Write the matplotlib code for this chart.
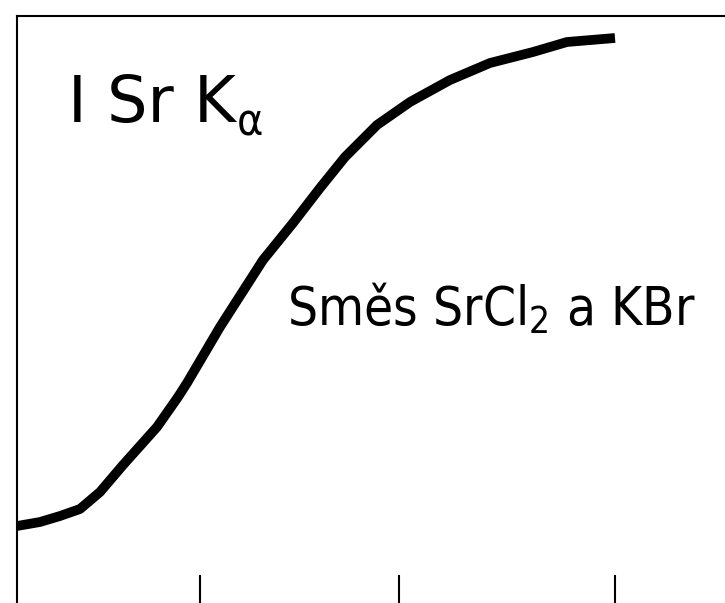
import matplotlib
matplotlib.use("Agg")
import matplotlib.pyplot as plt
from matplotlib import font_manager as fm

# ---- data (plot units) ----
x_vals = [0.00, 0.23, 0.43, 0.63, 0.83, 1.06, 1.40, 1.61, 1.70, 2.03, 2.46,
          2.76, 3.03, 3.28, 3.60, 3.93, 4.33, 4.73, 5.16, 5.50, 5.98]
y_vals = [0.89, 0.93, 0.99, 1.06, 1.23, 1.50, 1.88, 2.18, 2.32, 2.88, 3.55,
          3.92, 4.27, 4.58, 4.90, 5.13, 5.35, 5.52, 5.63, 5.73, 5.77]
x_ticks = [1.83, 3.82, 5.98]
label_y = "I Sr K"
label_y_sub = "α"
label_mix = "Směs SrCl$_{2}$ a KBr"

fp = fm.FontProperties(family="DejaVu Sans", stretch="condensed")
path = fm.findfont(fp)
cond = "Condensed" in path
stretch = 'condensed' if cond else 'normal'

plt.rcParams['mathtext.fontset'] = 'custom'
plt.rcParams['mathtext.rm'] = 'DejaVu Sans' + (':stretch=condensed' if cond else '')
plt.rcParams['mathtext.it'] = 'DejaVu Sans' + (':stretch=condensed' if cond else '')
plt.rcParams['mathtext.default'] = 'rm'

W, H = 725, 603
fig = plt.figure(figsize=(W / 100, H / 100), dpi=100)
left_px, right_px, top_px, bot_px = 17, 740, 16, 615
ax = fig.add_axes([left_px / W, (H - bot_px) / H,
                   (right_px - left_px) / W, (bot_px - top_px) / H])
ax.set_xlim(0, (right_px - left_px) / 100)
ax.set_ylim(0, (bot_px - top_px) / 100)

ax.plot(x_vals, y_vals, color='black', lw=7, solid_capstyle='butt',
        solid_joinstyle='round')

for s in ax.spines.values():
    s.set_linewidth(1.5)
ax.set_xticks(x_ticks)
ax.set_xticklabels([])
ax.tick_params(axis='x', direction='in', length=29, width=1.5, bottom=True, top=False)
ax.set_yticks([])

t1 = fig.text(68 / W, (H - 122) / H, label_y, va='baseline', ha='left',
              family='DejaVu Sans', fontsize=46, color='black')
fig.canvas.draw()
bb = t1.get_window_extent()
fig.text((bb.x1 + 1) / W, (H - 136) / H, label_y_sub, va='baseline', ha='left',
         family='DejaVu Sans', stretch=stretch, fontsize=32, color='black')
fig.text(287 / W, (H - 325) / H, label_mix, va='baseline', ha='left',
         family='DejaVu Sans', stretch=stretch, fontsize=38, color='black')

fig.savefig("out.png", dpi=100)
